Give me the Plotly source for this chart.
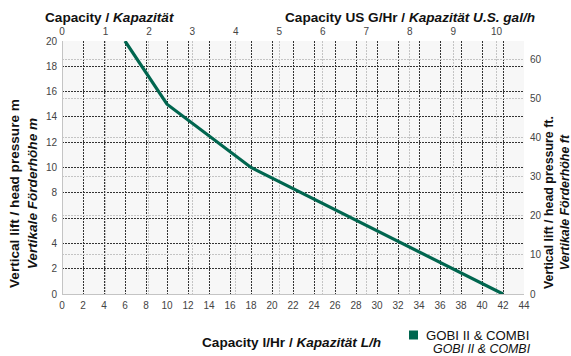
import plotly.graph_objects as go

# Pump curve: capacity (l/h) against vertical lift (m)
capacity_lh = [6, 10, 18, 42]
lift_m = [20, 15, 10, 0]

series_name = "GOBI II & COMBI"
series_name_de = "GOBI II & COMBI"

lh_ticks = list(range(0, 46, 2))
gal_ticks = list(range(0, 11))
m_ticks = list(range(0, 22, 2))
ft_ticks = list(range(0, 70, 10))

GREEN = "#00664f"
FONT = "Liberation Sans, Arial, sans-serif"
TICK_FONT = dict(family=FONT, size=10, color="#444444")
DARK_GRID = dict(gridcolor="#333333", griddash="2px,1px", gridwidth=1)
LIGHT_GRID = dict(gridcolor="#c4c4c4", griddash="2px,1px", gridwidth=1)

W, H = 571, 356
ML, MR, MT, MB = 62, 47, 41, 62
PW, PH = W - ML - MR, H - MT - MB


def px_x(px):
    return (px - ML) / PW


def px_y(py):
    return (H - MB - py) / PH


fig = go.Figure()
fig.add_trace(go.Scatter(
    x=capacity_lh, y=lift_m, mode="lines",
    line=dict(color=GREEN, width=3.2),
    showlegend=False, hoverinfo="skip",
))

fig.update_layout(
    width=W, height=H,
    margin=dict(l=ML, r=MR, t=MT, b=MB, pad=0),
    paper_bgcolor="white",
    plot_bgcolor="#f7f7f7",
    font=dict(family=FONT, color="#111111"),
    showlegend=False,
    xaxis=dict(
        range=[0, 44], tickvals=lh_ticks, ticks="", showline=False,
        zeroline=True, zerolinecolor="#c4c4c4", zerolinewidth=1,
        tickfont=TICK_FONT, ticklabelstandoff=4, **DARK_GRID,
    ),
    xaxis2=dict(
        range=[0, 10.63], tickvals=gal_ticks, overlaying="x", side="top",
        ticks="", showline=False, zeroline=False,
        tickfont=TICK_FONT, ticklabelstandoff=3, **LIGHT_GRID,
    ),
    yaxis=dict(
        range=[0, 20], tickvals=m_ticks, ticks="", showline=False,
        zeroline=True, zerolinecolor="#c4c4c4", zerolinewidth=1,
        tickfont=TICK_FONT, ticklabelstandoff=4, **DARK_GRID,
    ),
    yaxis2=dict(
        range=[0, 64.7], tickvals=ft_ticks, overlaying="y", side="right",
        ticks="", showline=False, zeroline=False,
        tickfont=TICK_FONT, ticklabelstandoff=5, **LIGHT_GRID,
    ),
)

# Hidden companion trace so the secondary axes get drawn
fig.add_trace(go.Scatter(x=[None], y=[None], xaxis="x2", yaxis="y2",
                         showlegend=False, hoverinfo="skip"))

title_font = dict(family=FONT, size=13.6, color="#111111")
annotations = [
    dict(text="<b>Capacity / <i>Kapazität</i></b>",
         x=px_x(43), y=px_y(17), xanchor="left", yanchor="middle"),
    dict(text="<b>Capacity US G/Hr / <i>Kapazität U.S. gal/h</i></b>",
         x=px_x(537), y=px_y(17), xanchor="right", yanchor="middle"),
    dict(text="<b>Capacity l/Hr / <i>Kapazität L/h</i></b>",
         x=px_x(291), y=px_y(342), xanchor="center", yanchor="middle"),
    dict(text="<b>Vertical lift / head pressure m<br><i>Vertikale Förderhöhe m</i></b>",
         x=px_x(23), y=px_y(194), xanchor="center", yanchor="middle",
         textangle=-90),
    dict(text="<b>Vertical lift / head pressure ft.<br><i>Vertikale Förderhöhe ft</i></b>",
         x=px_x(557), y=px_y(203), xanchor="center", yanchor="middle",
         textangle=-90, font=dict(family=FONT, size=12.4, color="#111111")),
    dict(text=series_name, x=px_x(424), y=px_y(335), xanchor="left",
         yanchor="middle", font=dict(family=FONT, size=13.2, color="#111111")),
    dict(text=f"<i>{series_name_de}</i>", x=px_x(533), y=px_y(349),
         xanchor="right", yanchor="middle",
         font=dict(family=FONT, size=12.4, color="#111111")),
]
for a in annotations:
    a.setdefault("font", title_font)
    fig.add_annotation(xref="paper", yref="paper", showarrow=False,
                       align="center", **a)

# Legend swatch
fig.add_shape(type="rect", xref="paper", yref="paper",
              x0=px_x(409), x1=px_x(418), y0=px_y(339.5), y1=px_y(330.5),
              fillcolor=GREEN, line=dict(width=0))

fig.write_html("out.html")
